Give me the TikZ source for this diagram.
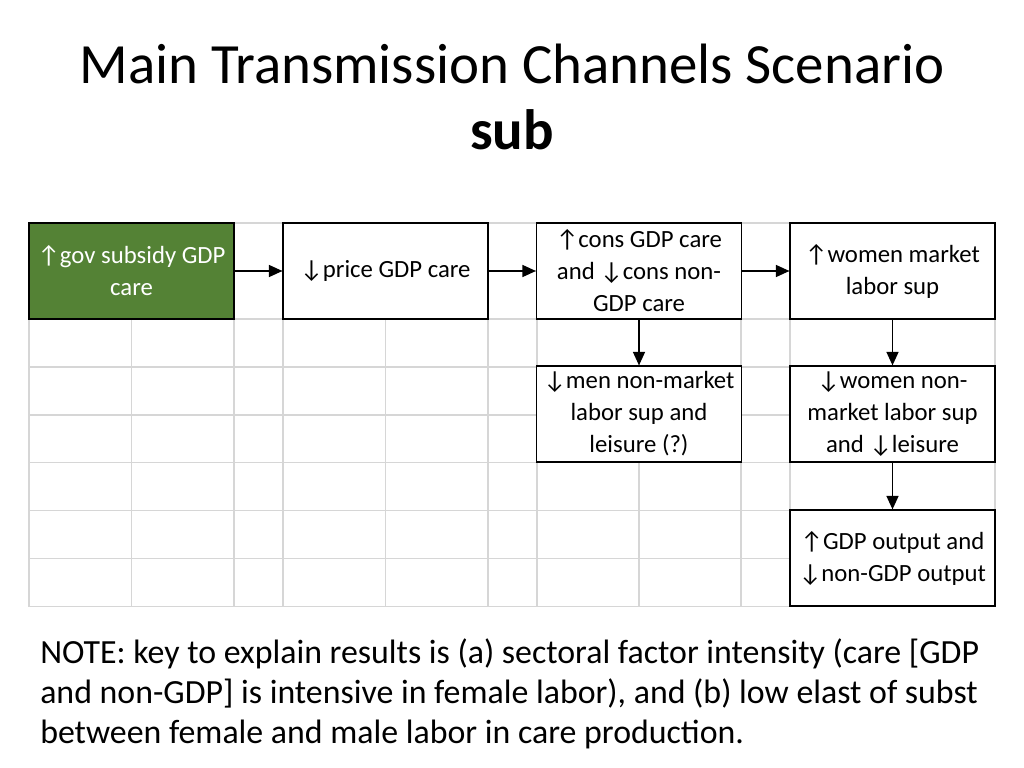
\documentclass[tikz,border=0pt]{standalone}
\usepackage{fontspec}
\setmainfont{Carlito}
\usetikzlibrary{arrows.meta}
\definecolor{subgreen}{HTML}{548235}
\definecolor{gridgrey}{HTML}{D6D6D6}
\tikzset{
	gridline/.style={draw=gridgrey, line width=1.1pt},
	chanbox/.style={draw=black, fill=white, line width=0.9pt, minimum width=144.1pt, minimum height=67.5pt, inner sep=0pt, align=center, font=\fontsize{17.4}{22.5}\selectfont},
	startbox/.style={chanbox, fill=subgreen, text=white},
	flow/.style={-{Triangle[length=9.5pt,width=8.5pt]}, line width=0.9pt},
}
\begin{document}
\begin{tikzpicture}[x=0.703125pt, y=-0.703125pt]
	\useasboundingbox (0,0) rectangle (1024,768);

	% title
	\node[align=center, font=\fontsize{40}{47}\selectfont] (title) at (512,97) {Main Transmission Channels Scenario\\\textbf{sub}};

	% spreadsheet grid behind the boxes
	\foreach \gx in {29,131.5,234,283,385.5,488,537,639,741,790,892.5,995}
		\draw[gridline] (\gx,223) -- (\gx,606.5);
	\foreach \i in {0,...,8}
		\draw[gridline] (29,{223+47.94*\i}) -- (995,{223+47.94*\i});

	% channel boxes
	\node[startbox] (subsidy) at (131.5,271) {↑gov subsidy GDP\\care};
	\node[chanbox] (price) at (385.5,271) {↓price GDP care\strut};
	\node[chanbox] (cons) at (639,271) {↑cons GDP care\\and ↓cons non-\\GDP care};
	\node[chanbox] (wmarket) at (892.5,271) {↑women market\\labor sup};
	\node[chanbox] (mnonmarket) at (639,414) {↓men non-market\\labor sup and\\leisure (?)};
	\node[chanbox] (wnonmarket) at (892.5,414) {↓women non-\\market labor sup\\and ↓leisure};
	\node[chanbox] (output) at (892.5,558) {↑GDP output and\\↓non-GDP output};

	% connectors
	\draw[flow] (subsidy) -- (price);
	\draw[flow] (price) -- (cons);
	\draw[flow] (cons) -- (wmarket);
	\draw[flow] (cons) -- (mnonmarket);
	\draw[flow] (wmarket) -- (wnonmarket);
	\draw[flow] (wnonmarket) -- (output);

	% note
	\node[anchor=north west, align=left, inner sep=0pt, font=\fontsize{23.8}{28.2}\selectfont] (note) at (40,638) {NOTE: key to explain results is (a) sectoral factor intensity (care [GDP\\and non-GDP] is intensive in female labor), and (b) low elast of subst\\between female and male labor in care production.};
\end{tikzpicture}
\end{document}
